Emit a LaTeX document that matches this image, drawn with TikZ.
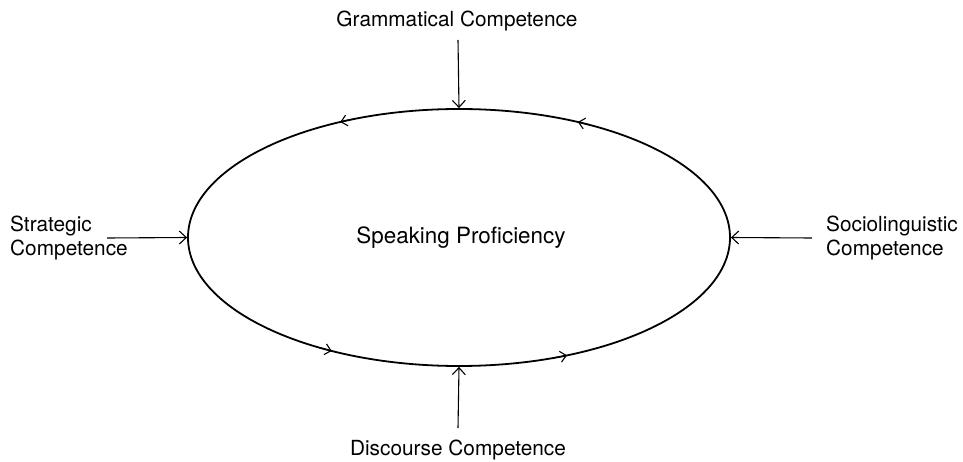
\documentclass[tikz,border=0pt]{standalone}
\usepackage{fontspec}
\setmainfont{TeX Gyre Heros}
\usetikzlibrary{arrows.meta,shapes.geometric}
\tikzset{
  lbl/.style={inner sep=0pt, font=\fontsize{20.8}{24}\selectfont, align=left},
  feed/.style={line width=1.1pt, -{Straight Barb[length=7pt,width=13pt,line width=1.1pt]}},
  flow/.style={line width=1.1pt, -{Straight Barb[length=6pt,width=11pt,line width=1.1pt]}},
  oval/.style={draw, ellipse, line width=1.8pt, minimum width=542pt, minimum height=257pt, inner sep=0pt},
}
\begin{document}
\begin{tikzpicture}[x=1pt,y=-1pt]
\useasboundingbox (0,0) rectangle (963,462);
\node[oval] (sp) at (459,237.5) {};
\node[inner sep=0pt, font=\fontsize{22.4}{26}\selectfont] (spt) at (461,238) {Speaking Proficiency};
\node[lbl, anchor=base] (gc) at (457,27) {Grammatical Competence};
\node[lbl, anchor=base] (dc) at (458,455) {Discourse Competence};
\node[lbl, anchor=west] (stc) at (10,238) {Strategic\\Competence};
\node[lbl, anchor=west] (soc) at (826,238) {Sociolinguistic\\Competence};
\coordinate (gs) at (458,40);
\coordinate (ds) at (458,428);
\coordinate (ls) at (107,238);
\coordinate (rs) at (812,238);
\draw[feed] (gs) -- (sp.north);
\draw[feed] (ds) -- (sp.south);
\draw[feed] (ls) -- (sp.west);
\draw[feed] (rs) -- (sp.east);
% direction marks on the ellipse
\draw[flow] (sp.center) ++(-113:271 and 128.5) arc[start angle=-113, end angle=-116, x radius=271, y radius=128.5];
\draw[flow] (sp.center) ++(-61:271 and 128.5) arc[start angle=-61, end angle=-64, x radius=271, y radius=128.5];
\draw[flow] (sp.center) ++(121:271 and 128.5) arc[start angle=121, end angle=118, x radius=271, y radius=128.5];
\draw[flow] (sp.center) ++(69.5:271 and 128.5) arc[start angle=69.5, end angle=66.5, x radius=271, y radius=128.5];
\end{tikzpicture}
\end{document}
